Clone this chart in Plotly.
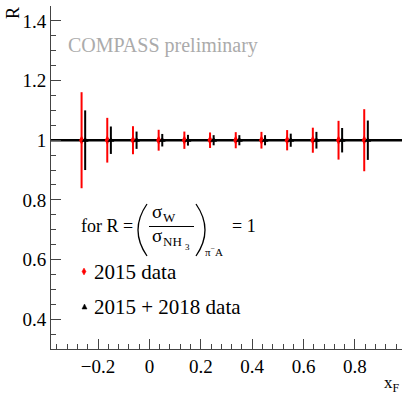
import plotly.graph_objects as go

# Bin centres in x_F and projected ratio R with its statistical uncertainty
xf_bins = [-0.25, -0.15, -0.05, 0.05, 0.15, 0.25, 0.35, 0.45, 0.55, 0.65, 0.75, 0.85]
r_2015 = [1.0, 1.0, 1.0, 1.0, 1.0, 1.0, 1.0, 1.0, 1.0, 1.0, 1.0, 1.0]
err_2015 = [0.161, 0.075, 0.047, 0.035, 0.029, 0.026, 0.027, 0.028, 0.034, 0.042, 0.065, 0.104]
r_1518 = [1.0, 1.0, 1.0, 1.0, 1.0, 1.0, 1.0, 1.0, 1.0, 1.0, 1.0, 1.0]
err_1518 = [0.100, 0.046, 0.029, 0.021, 0.018, 0.017, 0.017, 0.017, 0.022, 0.028, 0.041, 0.066]

# small horizontal shift so the two data sets do not overlap
SHIFT_2015 = -0.014

W, H = 402, 395
ML, MT, MB, MR = 51, 6, 46, 0
PW, PH = W - ML - MR, H - MT - MB
SERIF = "Liberation Serif, Times New Roman, serif"


def px(x):
    return (x - ML) / PW


def py(y):
    return (H - MB - y) / PH


fig = go.Figure()

fig.add_trace(go.Scatter(
    x=[v + SHIFT_2015 for v in xf_bins], y=r_2015, mode="markers",
    marker=dict(symbol="diamond-tall", size=7, color="#ff0000"),
    error_y=dict(type="data", array=err_2015, visible=True, color="#ff0000",
                 thickness=2, width=0),
    showlegend=False,
))
fig.add_trace(go.Scatter(
    x=xf_bins, y=r_1518, mode="markers",
    marker=dict(symbol="triangle-up", size=6, color="#000000"),
    error_y=dict(type="data", array=err_1518, visible=True, color="#000000",
                 thickness=2, width=0),
    showlegend=False,
))

shapes = [
    # reference line R = 1
    dict(type="line", xref="paper", yref="y", x0=0, x1=1, y0=1, y1=1,
         line=dict(color="black", width=2.5), layer="below"),
    # big parentheses around the cross-section fraction
    dict(type="path", xref="paper", yref="paper",
         path=f"M {px(147)},{py(204)} Q {px(129)},{py(230)} {px(147)},{py(256)}",
         line=dict(color="black", width=1.3)),
    dict(type="path", xref="paper", yref="paper",
         path=f"M {px(196)},{py(204)} Q {px(214)},{py(230)} {px(196)},{py(256)}",
         line=dict(color="black", width=1.3)),
    # fraction bar
    dict(type="line", xref="paper", yref="paper",
         x0=px(149), x1=px(194), y0=py(226.5), y1=py(226.5),
         line=dict(color="black", width=1)),
    # legend symbols
    dict(type="path", xref="paper", yref="paper",
         path=(f"M {px(84)},{py(268)} L {px(86)},{py(271.5)} "
               f"L {px(84)},{py(275)} L {px(82)},{py(271.5)} Z"),
         fillcolor="#ff0000", line=dict(color="#ff0000", width=0.5)),
    dict(type="path", xref="paper", yref="paper",
         path=(f"M {px(84.5)},{py(304)} L {px(87)},{py(309)} "
               f"L {px(82)},{py(309)} Z"),
         fillcolor="black", line=dict(color="black", width=0.5)),
]


def note(text, x, y, size, xanchor="left", color="black", angle=0):
    return dict(text=text, xref="paper", yref="paper", x=px(x), y=py(y),
                xanchor=xanchor, yanchor="middle", showarrow=False,
                borderpad=0, textangle=angle,
                font=dict(family=SERIF, size=size, color=color))


annotations = [
    note("COMPASS preliminary", 67, 45.5, 20, color="#ababab"),
    note("for R =", 80, 226, 18),
    # numerator sigma_W
    note("σ", 151, 211, 19),
    note("W", 162, 217, 13),
    # denominator sigma_NH3
    note("σ", 151, 235, 19),
    note("NH", 162, 241, 13),
    note("3", 184, 247, 9),
    note("π<sup>−</sup>A", 204, 251, 11),
    note("= 1", 231, 226, 18),
    note("2015 data", 93, 271.5, 21),
    note("2015 + 2018 data", 93, 306.5, 21),
    note("R", 13.5, 13.5, 18, xanchor="center", angle=-90),
    note("x<sub>F</sub>", 383, 384, 17),
]

axis_common = dict(
    showline=True, linecolor="#444444", linewidth=1, mirror=False,
    ticks="inside", ticklen=10, tickwidth=1, tickcolor="#444444",
    showgrid=False, zeroline=False,
    tickfont=dict(family=SERIF, size=19, color="black"),
)

fig.update_layout(
    width=W, height=H,
    margin=dict(l=ML, r=MR, t=MT, b=MB, pad=0),
    paper_bgcolor="white", plot_bgcolor="white",
    font=dict(family=SERIF),
    xaxis=dict(range=[-0.383, 0.983], tick0=0, dtick=0.2,
               minor=dict(ticks="inside", ticklen=5, tick0=0, dtick=0.04,
                          tickcolor="#444444", showgrid=False),
               **axis_common),
    yaxis=dict(range=[0.30, 1.45], tick0=0, dtick=0.2,
               minor=dict(ticks="inside", ticklen=5, tick0=0, dtick=0.05,
                          tickcolor="#444444", showgrid=False),
               **axis_common),
    shapes=shapes,
    annotations=annotations,
    showlegend=False,
)

fig.write_html("out.html")
